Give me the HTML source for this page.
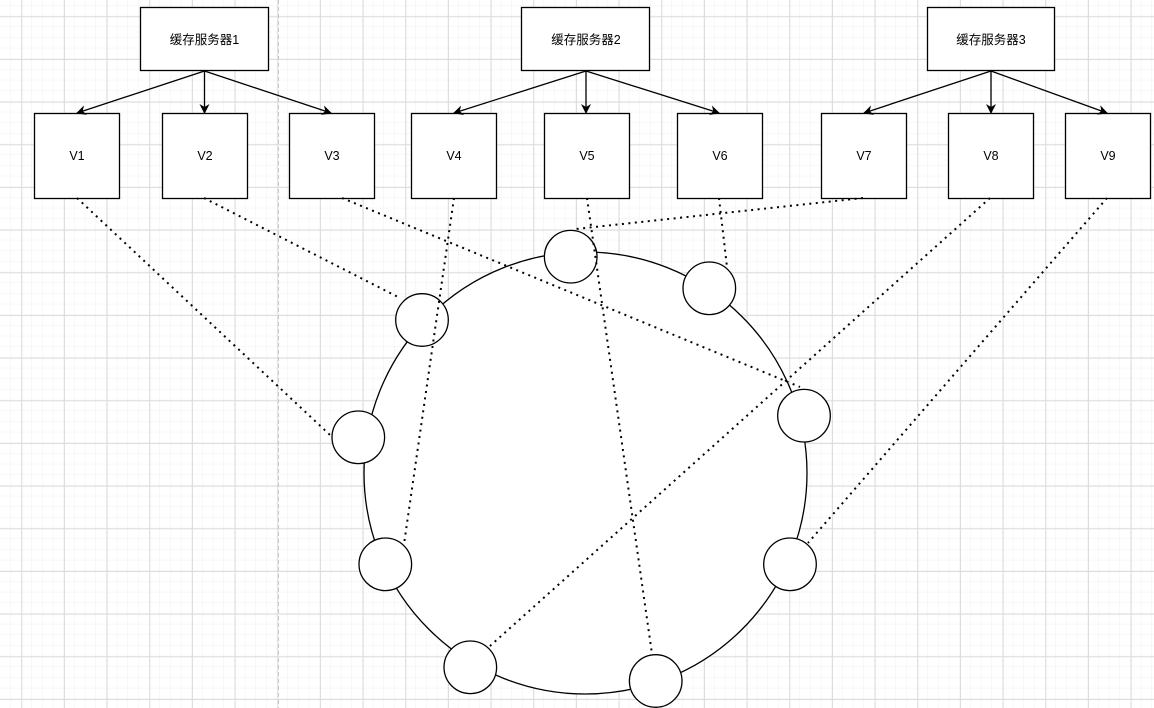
<!DOCTYPE html>
<html><head><meta charset="utf-8"><style>
html,body{margin:0;padding:0;background:#fff;}
svg{display:block;}
text{font-family:"Liberation Sans","Noto Sans CJK SC",sans-serif;font-size:12.5px;fill:#000;}
</style></head><body>
<svg width="1154" height="708" viewBox="0 0 1154 708" xmlns="http://www.w3.org/2000/svg">
<defs>
<pattern id="minor" x="0.0" y="5.6" width="10.667" height="10.667" patternUnits="userSpaceOnUse">
<path d="M10.667 0V10.667M0 10.667H10.667" stroke="#f0f0f0" stroke-width="1" fill="none"/>
</pattern>
<pattern id="major" x="21.3" y="16.3" width="42.667" height="42.667" patternUnits="userSpaceOnUse">
<path d="M0.5 0V42.667M0 0.5H42.667" stroke="#dcdcdc" stroke-width="1" fill="none"/>
</pattern>
<marker id="ar" viewBox="0 0 10 10" refX="9" refY="5" markerWidth="10" markerHeight="10" markerUnits="userSpaceOnUse" orient="auto">
<path d="M0 0L10 5L0 10L3 5Z" fill="#000"/>
</marker>
</defs>
<rect width="1154" height="708" fill="url(#minor)"/>
<rect width="1154" height="708" fill="url(#major)"/>
<line x1="278.5" y1="0" x2="278.5" y2="708" stroke="#c8c8c8" stroke-dasharray="4 3"/>

<g stroke="#000" stroke-width="1.3" fill="#fff">
<rect x="140.5" y="7.5" width="128" height="63"/>
<rect x="521.5" y="7.5" width="128" height="63"/>
<rect x="927.5" y="7.5" width="127" height="63"/>
<rect x="34.5" y="113.5" width="85" height="85"/>
<rect x="162.5" y="113.5" width="85" height="85"/>
<rect x="289.5" y="113.5" width="85" height="85"/>
<rect x="411.5" y="113.5" width="85" height="85"/>
<rect x="544.5" y="113.5" width="85" height="85"/>
<rect x="677.5" y="113.5" width="85" height="85"/>
<rect x="821.5" y="113.5" width="85" height="85"/>
<rect x="948.5" y="113.5" width="85" height="85"/>
<rect x="1065.5" y="113.5" width="85" height="85"/>
</g>
<g stroke="#000" stroke-width="1.3" fill="none" marker-end="url(#ar)">
<line x1="204.5" y1="71" x2="77" y2="113"/>
<line x1="204.5" y1="71" x2="204.5" y2="113"/>
<line x1="204.5" y1="71" x2="331" y2="113"/>
<line x1="586" y1="71" x2="454" y2="113"/>
<line x1="586" y1="71" x2="586" y2="113"/>
<line x1="586" y1="71" x2="719" y2="113"/>
<line x1="991" y1="71" x2="864" y2="113"/>
<line x1="991" y1="71" x2="991" y2="113"/>
<line x1="991" y1="71" x2="1107" y2="113"/>
</g>
<g text-anchor="middle">
<text x="204.5" y="44">缓存服务器1</text>
<text x="586" y="44">缓存服务器2</text>
<text x="991" y="44">缓存服务器3</text>
<text x="77" y="160">V1</text>
<text x="205" y="160">V2</text>
<text x="332" y="160">V3</text>
<text x="454" y="160">V4</text>
<text x="587" y="160">V5</text>
<text x="720" y="160">V6</text>
<text x="864" y="160">V7</text>
<text x="991" y="160">V8</text>
<text x="1108" y="160">V9</text>
</g>

<ellipse cx="585.5" cy="473" rx="221.5" ry="221" fill="#fff" stroke="#000" stroke-width="1.3"/>

<g fill="#fff" stroke="#000" stroke-width="1.3">
<circle cx="570.7" cy="256.7" r="26.3"/>
<circle cx="709.3" cy="288.3" r="26.3"/>
<circle cx="804" cy="415.7" r="26.3"/>
<circle cx="790" cy="564.3" r="26.3"/>
<circle cx="655.7" cy="681" r="26.3"/>
<circle cx="470.3" cy="667.3" r="26.3"/>
<circle cx="385.3" cy="564.3" r="26.3"/>
<circle cx="358.3" cy="437.3" r="26.3"/>
<circle cx="422" cy="320" r="26.3"/>
</g>

<g stroke="#000" stroke-width="2" stroke-dasharray="2 4.5" fill="none">
<line x1="77" y1="198" x2="330" y2="435"/>
<line x1="204" y1="198" x2="398" y2="297"/>
<line x1="342" y1="198" x2="800" y2="387"/>
<line x1="454" y1="198" x2="404" y2="544"/>
<line x1="587" y1="198" x2="652" y2="654"/>
<line x1="719" y1="198" x2="727" y2="267"/>
<line x1="863" y1="198" x2="576" y2="229"/>
<line x1="990" y1="198" x2="490" y2="646"/>
<line x1="1107" y1="198" x2="808" y2="543"/>
</g>
</svg>
</body></html>
